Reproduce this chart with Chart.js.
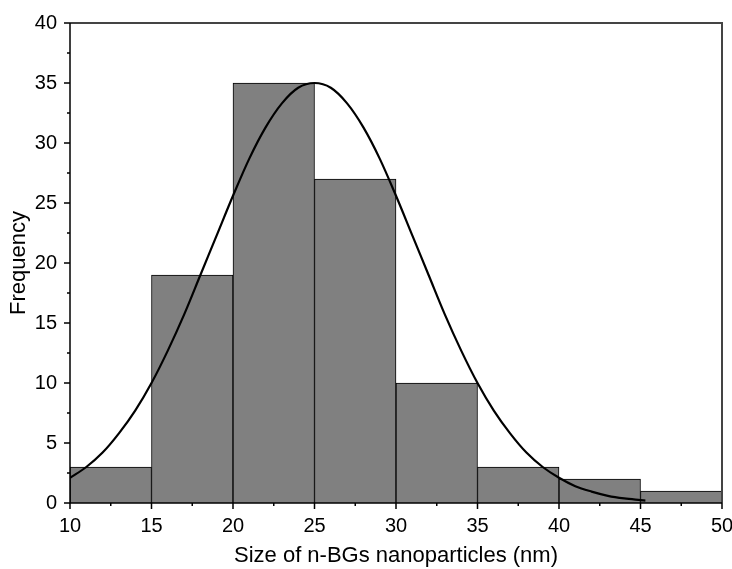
<!DOCTYPE html>
<html>
<head>
<meta charset="utf-8">
<script src="https://cdn.jsdelivr.net/npm/chart.js@4.4.0/dist/chart.umd.min.js"></script>
<style>
  html, body { margin: 0; padding: 0; background: #fff; }
  #wrap { width: 732px; height: 569px; }
</style>
</head>
<body>
<div id="wrap"><canvas id="histChart"></canvas></div>
<script>
// Histogram bins (centres) and counts
const binCenters = [12.5, 17.5, 22.5, 27.5, 32.5, 37.5, 42.5, 47.5];
const binCounts = [3, 19, 35, 27, 10, 3, 2, 1];

// Fitted normal curve
const curveX = [10, 11, 12, 13, 14, 15, 16, 17, 18, 19, 20, 21, 22, 23, 24, 25,
    26, 27, 28, 29, 30, 31, 32, 33, 34, 35, 36, 37, 38, 39, 40, 41, 42, 43, 44, 45, 45.3];
const curveY = [2.1, 3.0, 4.2, 5.8, 7.7, 10.0, 12.7, 15.7, 19.0, 22.3, 25.6, 28.7, 31.3, 33.3, 34.6, 35,
    34.6, 33.3, 31.3, 28.7, 25.6, 22.3, 19.0, 15.7, 12.7, 10.0, 7.7, 5.8, 4.2, 3.0, 2.1, 1.4, 0.95, 0.6, 0.38, 0.24, 0.2];

const xMin = 10, xMax = 50, yMin = 0, yMax = 40;
const FONT = "'Liberation Sans', Arial, sans-serif";

// frame + minor ticks
const framePlugin = {
    id: 'frame',
    afterDraw(chart) {
        const ctx = chart.ctx;
        const a = chart.chartArea;
        const xs = chart.scales.x, ys = chart.scales.y;
        ctx.save();
        ctx.strokeStyle = '#444';
        ctx.lineWidth = 2;
        ctx.beginPath();
        ctx.moveTo(a.left, a.top);
        ctx.lineTo(a.right, a.top);
        ctx.lineTo(a.right, a.bottom);
        ctx.stroke();
        ctx.strokeStyle = '#000';
        ctx.lineWidth = 1.5;
        ctx.beginPath();
        ctx.moveTo(a.left, a.top);
        ctx.lineTo(a.left, a.bottom);
        ctx.lineTo(a.right, a.bottom);
        ctx.stroke();
        // major + minor ticks
        ctx.beginPath();
        for (let v = xMin; v <= xMax + 0.01; v += 2.5) {
            const p = xs.getPixelForValue(v);
            const len = (v % 5 === 0) ? 6 : 3;
            ctx.moveTo(p, a.bottom);
            ctx.lineTo(p, a.bottom + len);
        }
        for (let v = yMin; v <= yMax + 0.01; v += 2.5) {
            const p = ys.getPixelForValue(v);
            const len = (v % 5 === 0) ? 6 : 3;
            ctx.moveTo(a.left, p);
            ctx.lineTo(a.left - len, p);
        }
        ctx.stroke();
        ctx.restore();
    }
};

window.onload = function() {
    const ctx = document.getElementById('histChart').getContext('2d');
    new Chart(ctx, {
        type: 'bar',
        data: {
            datasets: [{
                type: 'line',
                data: curveX.map((x, i) => ({ x: x, y: curveY[i] })),
                borderColor: '#000',
                borderWidth: 2.2,
                pointRadius: 0,
                cubicInterpolationMode: 'monotone',
                fill: false,
                order: 0
            }, {
                type: 'bar',
                data: binCenters.map((x, i) => ({ x: x, y: binCounts[i] })),
                backgroundColor: '#808080',
                borderColor: '#000',
                borderWidth: 1,
                barPercentage: 1,
                categoryPercentage: 1,
                order: 1
            }]
        },
        options: {
            responsive: true,
            maintainAspectRatio: false,
            animation: false,
            layout: { padding: { top: 23, right: 10, left: 0, bottom: 0 } },
            plugins: { legend: { display: false }, tooltip: { enabled: false } },
            scales: {
                x: {
                    type: 'linear',
                    min: xMin, max: xMax,
                    offset: false,
                    grid: { display: false },
                    border: { display: false },
                    ticks: { stepSize: 5, color: '#000', font: { family: FONT, size: 20 }, padding: 3, maxRotation: 0 },
                    title: { display: true, text: 'Size of n-BGs nanoparticles (nm)', color: '#000', font: { family: FONT, size: 22 }, padding: { top: 0, bottom: 0 } },
                    afterFit(scale) {
                        scale.height = 66;
                        scale.paddingLeft = 0;
                        scale.paddingRight = 0;
                    }
                },
                y: {
                    min: yMin, max: yMax,
                    grid: { display: false },
                    border: { display: false },
                    ticks: { stepSize: 5, color: '#000', font: { family: FONT, size: 20 }, padding: 5 },
                    title: { display: true, text: 'Frequency', color: '#000', font: { family: FONT, size: 22 }, padding: { top: 6, bottom: 0 } },
                    afterFit(scale) {
                        scale.width = 70;
                        scale.paddingTop = 0;
                        scale.paddingBottom = 0;
                    }
                }
            }
        },
        plugins: [framePlugin]
    });
};
</script>
</body>
</html>
